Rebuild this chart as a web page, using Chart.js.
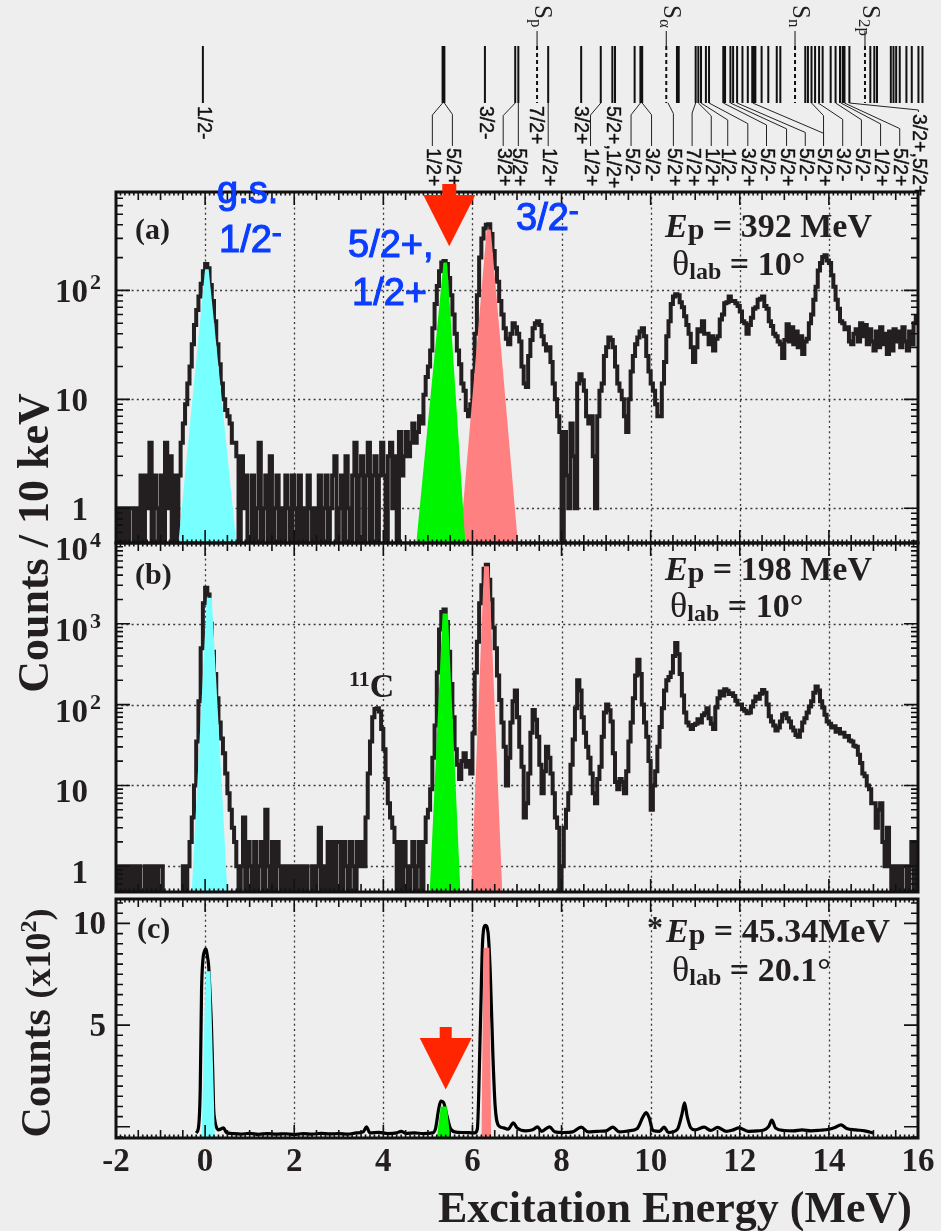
<!DOCTYPE html>
<html lang="en">
<head>
<meta charset="UTF-8">
<title>Excitation energy spectra</title>
<script src="https://cdn.jsdelivr.net/npm/chart.js"></script>
<style>
  body { margin: 0; background: #eeeeee; }
  #wrap { position: relative; width: 941px; height: 1231px; }
  #wrap canvas { position: absolute; left: 0; top: 0; }
</style>
</head>
<body>
<div id="wrap">
  <canvas id="scheme" width="941" height="1231"></canvas>
  <canvas id="panelA" width="941" height="1231"></canvas>
  <canvas id="panelB" width="941" height="1231"></canvas>
  <canvas id="panelC" width="941" height="1231"></canvas>
</div>
<script>
// ---------- data ----------
// histograms: 0.05 MeV bins starting at -2 MeV
const binStart = -2;
const binWidth = 0.05;

// (a) Ep = 392 MeV, counts per bin, one row = 1 MeV
const countsA = [
  1,0,1,0,1,0,1,1,0,1, 0,2,0,2,1,4,0,2,1,0,
  2,0,4,1,3,0,2,0,2,4, 6,9,14,20,32,48,66,88,115,150,
  175,160,112,80,52,32,21,14,10,8, 7,6,4,4,3,0,3,1,2,0,
  0,2,0,1,4,0,1,2,0,3, 0,1,2,0,1,0,2,1,0,2,
  1,0,2,0,1,0,2,1,0,1, 0,2,0,1,2,0,1,2,3,0,
  1,2,0,3,1,0,2,4,0,2, 3,0,2,4,0,2,3,0,2,4,
  2,0,3,4,1,3,0,5,2,3, 5,3,4,6,4,5,7,6,11,16,
  20,28,45,75,110,150,180,186,175,130, 90,60,40,28,21,14,12,8,7,9,
  18,40,90,200,300,370,400,404,330,230, 160,120,80,60,45,36,32,40,50,46,
  40,34,20,14,13,25,35,45,50,52, 48,38,32,28,30,22,14,10,7,5,
  0,5,2,1,6,3,1,14,17,15, 12,7,6,7,3,1,7,12,14,25,
  30,37,35,30,20,14,12,10,7,5, 10,18,25,32,37,42,45,38,25,18,
  14,12,9,7,7,14,22,38,52,75, 88,92,90,78,70,58,48,40,30,22,
  30,44,42,52,40,40,32,38,28,36, 38,54,60,76,78,88,80,80,76,72,
  64,52,50,40,48,56,68,70,82,84, 88,72,68,52,47,40,38,34,32,24,
  35,49,34,46,32,42,30,38,26,34, 36,50,60,82,108,152,178,202,210,188,
  178,138,108,82,68,52,50,44,46,34, 32,40,44,34,50,38,48,32,44,34,
  28,42,30,46,32,40,26,42,28,44, 34,42,30,46,34,28,42,32,50,58
];

// (b) Ep = 198 MeV
const countsB = [
  1,0,1,0,1,0,1,0,1,0, 1,0,0,1,0,1,0,1,0,1,
  1,0,0,0,0,0,0,0,0,0, 1,0,1,2,4,10,35,110,500,1800,
  2800,2300,1000,450,240,120,60,38,25,14, 8,5,3,2,1,0,1,4,0,2,
  1,0,2,0,1,2,0,5,1,0, 2,0,2,1,0,1,0,1,0,1,
  0,1,0,1,0,1,0,0,1,0, 1,3,0,1,0,2,0,2,0,2,
  2,0,2,1,0,2,1,0,2,1, 2,1,4,14,35,70,88,90,82,50,
  28,12,6,4,3,2,0,2,0,2, 1,0,1,2,0,1,2,0,2,4,
  5,9,22,55,250,850,1400,1500,1050,450, 180,70,28,18,12,20,25,17,20,14,
  44,250,600,1800,3000,4800,5400,3500,2000,900, 500,230,114,60,30,10,22,60,110,150,
  70,30,17,4,6,14,45,86,65,40, 18,8,15,30,22,14,8,4,3,0,
  1,3,5,8,18,37,90,200,150,70, 45,30,22,14,8,6,12,17,40,80,
  100,85,62,25,11,9,12,11,8,15, 35,60,120,230,360,240,100,60,40,20,
  5,10,15,30,53,90,150,200,220,250, 400,580,420,240,130,80,60,55,50,56,
  58,66,60,74,78,90,68,58,50,92, 120,145,130,155,148,135,138,128,112,100,
  100,88,84,78,80,95,110,126,118,136, 152,140,100,72,62,55,48,52,62,75,
  78,68,62,52,48,42,40,48,60,68, 80,95,110,140,168,150,110,92,75,62,
  58,52,54,46,50,44,45,40,41,36, 35,31,30,24,19,14,13,10,9,6,
  6,3,5,6,2,1,3,1,0,1, 0,1,0,1,1,0,1,2,0,2
];

// (c) Ep = 45.34 MeV, counts (x10^2)
const energiesC = [
  -0.20,-0.15,-0.11,-0.08,-0.05,-0.02,0.02,0.05,0.08,0.11,
  0.14,0.17,0.19,0.22,0.25,0.30,0.36,0.41,0.48,0.60,
  0.80,1.00,1.20,1.40,1.60,1.80,2.00,2.20,2.40,2.60,
  2.80,3.00,3.20,3.40,3.55,3.62,3.70,3.90,4.10,4.30,
  4.40,4.50,4.70,4.90,5.10,5.17,5.24,5.29,5.35,5.43,
  5.50,5.60,5.80,6.05,6.11,6.18,6.23,6.29,6.35,6.40,
  6.46,6.51,6.59,6.70,6.80,6.92,7.00,7.20,7.35,7.46,
  7.55,7.73,7.85,8.05,8.25,8.44,8.60,8.80,9.00,9.15,
  9.30,9.50,9.70,9.83,9.90,9.97,10.05,10.20,10.30,10.40,
  10.60,10.70,10.76,10.82,10.90,11.00,11.20,11.35,11.50,11.70,
  11.85,11.98,12.20,12.40,12.55,12.65,12.72,12.80,13.00,13.20,
  13.40,13.60,13.80,14.00,14.15,14.27,14.40,14.60,14.80,15.00
];
const countsC = [
  -0.30,-0.05,1.8,6.7,8.2,8.6,8.75,8.4,7.9,6.6,
  5.1,2.8,1.0,0.3,0.0,-0.15,-0.1,-0.05,-0.28,-0.33,
  -0.36,-0.32,-0.37,-0.33,-0.36,-0.34,-0.38,-0.33,-0.36,-0.32,
  -0.35,-0.33,-0.36,-0.30,-0.25,0.0,-0.30,-0.27,-0.33,-0.30,
  -0.22,-0.32,-0.30,-0.33,-0.30,-0.10,0.85,1.26,1.20,0.52,
  -0.05,-0.25,-0.28,-0.30,-0.10,5.1,9.2,9.9,9.55,7.57,
  3.47,1.0,0.05,-0.05,-0.12,0.2,-0.05,-0.2,-0.15,0.0,
  -0.22,0.0,-0.25,-0.28,-0.25,-0.02,-0.25,-0.22,-0.20,-0.02,
  -0.25,-0.20,-0.08,0.5,0.7,0.42,-0.18,-0.22,-0.02,-0.28,
  -0.12,0.6,1.18,0.5,-0.05,-0.15,-0.02,-0.18,-0.03,-0.22,
  -0.15,-0.05,-0.22,-0.20,-0.15,0.02,0.33,-0.05,-0.18,-0.20,
  -0.15,-0.20,-0.17,-0.12,-0.02,0.10,-0.08,-0.15,-0.20,-0.30
];

// shaded peak fits: energies of the outline corners and their heights (0 = axis floor)
const gsFillE_A = [-0.60, 0.00, 0.08, 0.70];       const gsFillH_A = [0, 156, 156, 0];
const posFillE_A = [4.74, 5.35, 5.43, 5.84];       const posFillH_A = [0, 180, 180, 0];
const negFillE_A = [5.72, 6.32, 6.41, 7.02];       const negFillH_A = [0, 363, 363, 0];
const gsFillE_B = [-0.30, 0.04, 0.15, 0.50];       const gsFillH_B = [0, 2100, 2100, 0];
const posFillE_B = [5.04, 5.33, 5.45, 5.73];       const posFillH_B = [0, 1340, 1340, 0];
const negFillE_B = [5.97, 6.26, 6.37, 6.67];       const negFillH_B = [0, 5170, 5170, 0];
const gsFillE_C = [-0.08, 0.015, 0.12, 0.22];      const gsFillH_C = [0, 7.65, 7.65, 0];
const posFillE_C = [5.20, 5.29, 5.43, 5.50];       const posFillH_C = [0, 1.0, 1.0, 0];
const negFillE_C = [6.20, 6.25, 6.38, 6.42];       const negFillH_C = [0, 8.8, 8.8, 0];

// level scheme (MeV)
const levelE = [-0.05, 5.33, 5.37, 6.28, 6.96, 7.03, 7.70, 8.44, 8.88, 9.14, 9.20,
  9.64, 9.77, 9.81, 10.59, 10.63, 11.01, 11.07, 11.13, 11.24, 11.31, 11.63, 11.67,
  11.79, 11.85, 11.94, 12.06, 12.18, 12.28, 12.31, 12.35, 12.49, 12.64, 12.83, 12.91,
  13.47, 13.53, 13.61, 13.69, 13.78, 13.86, 14.04, 14.15, 14.25, 14.31, 14.35, 14.46,
  14.93, 15.02, 15.08, 15.39, 15.45, 15.51, 15.59, 15.74, 15.86, 16.01, 16.10];
const thresholdE = [7.45, 10.35, 13.24, 14.81];
const thresholdSub = ['p', '\u03b1', 'n', '2p'];
const labelText = ['1/2-', '1/2+', '5/2+', '3/2-', '3/2+', '5/2+', '7/2+', '1/2+', '3/2+',
  '1/2+', '5/2+,1/2+', '5/2-', '3/2-', '5/2+', '7/2+', '1/2+', '1/2-', '3/2+', '5/2-',
  '5/2+', '5/2-', '5/2+', '3/2-', '5/2-', '1/2+', '5/2+', '3/2+,5/2+'];
const labelE = [-0.05, 5.10, 5.55, 6.28, 6.69, 7.03, 7.42, 7.70, 8.42, 8.65, 9.15,
  9.56, 10.02, 10.51, 10.93, 11.36, 11.73, 12.18, 12.60, 13.05, 13.47, 13.88, 14.31,
  14.73, 15.16, 15.59, 16.01];
const labelFrom = [-0.05, 5.33, 5.37, 6.28, 6.96, 7.03, 7.45, 7.70, 8.44, 8.88, 9.17,
  9.77, 9.81, 10.39, 11.01, 11.07, 11.13, 11.31, 11.63, 11.79, 11.94, 12.29, 13.76,
  14.15, 14.27, 14.35, 14.46];
const labelRow = [0, 1, 1, 0, 1, 1, 0, 1, 0, 1, 0, 1, 1, 1, 1, 1, 1, 1, 1, 1, 1, 1, 1,
  1, 1, 1, 2];
const extraLeaderFrom = 13.61;
const extraLeaderTo = 13.88;

// ---------- helpers ----------
const SERIF = '"Liberation Serif", "Times New Roman", serif';
const SANS = '"Liberation Sans", Arial, sans-serif';
const fB = s => 'bold ' + s + 'px ' + SERIF;
const fBI = s => 'italic bold ' + s + 'px ' + SERIF;
const fR = s => s + 'px ' + SERIF;
const fS = s => s + 'px ' + SANS;
const INK = '#231f20';
const BLUE = '#0a3dff';
const gridX = [0, 2, 4, 6, 8, 10, 12, 14];

function drawRuns(ctx, x, y, runs, align, outline) {
  let w = 0;
  runs.forEach(r => { ctx.font = r.font; w += ctx.measureText(r.t).width; });
  let cx = align === 'right' ? x - w : align === 'center' ? x - w / 2 : x;
  ctx.textAlign = 'left';
  runs.forEach(r => {
    ctx.font = r.font;
    ctx.fillText(r.t, cx, y + (r.dy || 0));
    if (outline) ctx.strokeText(r.t, cx, y + (r.dy || 0));
    cx += ctx.measureText(r.t).width;
  });
}

function histPoints(counts, floor) {
  return counts.map((c, i) => ({ x: binStart + (i + 0.5) * binWidth, y: c > 0 ? c : floor }));
}
function fillPoints(es, hs, floor) {
  return es.map((e, i) => ({ x: e, y: hs[i] > 0 ? hs[i] : floor }));
}
function fillSet(es, hs, floor, color) {
  return { data: fillPoints(es, hs, floor), fill: 'start', backgroundColor: color,
    borderColor: 'rgba(0,0,0,0)', borderWidth: 0, pointRadius: 0, tension: 0 };
}

function logTicks(min, max) {
  const out = [];
  for (let d = -1; d <= 4; d++) {
    for (let m = 1; m <= 9; m++) {
      const v = m * Math.pow(10, d);
      if (v >= min && v <= max) out.push([v, m === 1 ? 14 : 7]);
    }
  }
  return out;
}
function linTicks(min, max) {
  const out = [];
  for (let i = -2; i <= 24; i++) {
    const v = i * 0.5;
    if (v >= min && v <= max) out.push([v, i % 10 === 0 ? 14 : 7]);
  }
  return out;
}

function arrow(ctx, cx, tipY, shaftTop, headTop, headHalf, shaftHalf) {
  ctx.fillStyle = '#ff2500';
  ctx.fillRect(cx - shaftHalf, shaftTop, shaftHalf * 2, headTop - shaftTop + 1);
  ctx.beginPath();
  ctx.moveTo(cx - headHalf, headTop);
  ctx.lineTo(cx + headHalf, headTop);
  ctx.lineTo(cx, tipY);
  ctx.closePath();
  ctx.fill();
}

function decor(cfg) {
  return {
    id: 'decor',
    beforeDatasetsDraw(chart) {
      const { ctx, chartArea: a, scales: { x, y } } = chart;
      ctx.save();
      ctx.strokeStyle = '#3a3a3a';
      ctx.lineWidth = 1.3;
      ctx.setLineDash([2, 3.2]);
      ctx.beginPath();
      gridX.forEach(e => {
        const p = Math.round(x.getPixelForValue(e)) + 0.5;
        ctx.moveTo(p, a.top); ctx.lineTo(p, a.bottom);
      });
      cfg.gridY.forEach(v => {
        const p = Math.round(y.getPixelForValue(v)) + 0.5;
        ctx.moveTo(a.left, p); ctx.lineTo(a.right, p);
      });
      ctx.stroke();
      ctx.restore();
    },
    afterDraw(chart) {
      const { ctx, chartArea: a, scales: { x, y } } = chart;
      ctx.save();
      ctx.strokeStyle = '#111';
      ctx.lineWidth = 1.6;
      ctx.beginPath();
      for (let i = 0; i <= 180; i++) {
        const p = x.getPixelForValue(-2 + i * 0.1);
        const len = i % 20 === 0 ? 13 : i % 5 === 0 ? 8 : 3.5;
        ctx.moveTo(p, a.bottom); ctx.lineTo(p, a.bottom - len);
        ctx.moveTo(p, a.top); ctx.lineTo(p, a.top + len);
      }
      const ticks = cfg.log ? logTicks(cfg.yMin, cfg.yMax) : linTicks(cfg.yMin, cfg.yMax);
      ticks.forEach(([v, len]) => {
        const p = y.getPixelForValue(v);
        ctx.moveTo(a.left, p); ctx.lineTo(a.left + len, p);
        ctx.moveTo(a.right, p); ctx.lineTo(a.right - len, p);
      });
      ctx.stroke();
      ctx.lineWidth = 3;
      ctx.strokeRect(a.left, a.top, a.right - a.left, a.bottom - a.top);

      ctx.fillStyle = INK;
      ctx.textBaseline = 'alphabetic';
      cfg.yLabels.forEach(l => {
        const p = y.getPixelForValue(l.v) + cfg.labelDy;
        ctx.font = fB(33);
        ctx.textAlign = 'right';
        ctx.fillText(l.b, cfg.labelRight, p);
        if (l.s) {
          ctx.font = fB(22);
          ctx.textAlign = 'left';
          ctx.fillText(l.s, cfg.labelRight + 2, p - 13);
        }
      });
      cfg.extra(ctx, chart);
      ctx.restore();
    }
  };
}

function makePanel(id, cfg) {
  return new Chart(document.getElementById(id), {
    type: 'line',
    data: { datasets: cfg.datasets },
    options: {
      responsive: false,
      animation: false,
      events: [],
      layout: { padding: { left: 116, right: 23, top: cfg.top, bottom: 1231 - cfg.bottom } },
      scales: {
        x: { type: 'linear', min: -2, max: 16, display: false },
        y: { type: cfg.log ? 'logarithmic' : 'linear', min: cfg.yMin, max: cfg.yMax, display: false }
      },
      plugins: { legend: { display: false }, tooltip: { enabled: false } },
      elements: { point: { radius: 0 } }
    },
    plugins: [decor(cfg)]
  });
}

const CYAN = '#78ffff', GREEN = '#00f500', SALMON = '#ff8080';

function histSet(points, width) {
  return { data: points, borderColor: INK, borderWidth: width, stepped: 'middle',
    pointRadius: 0, fill: false };
}

function epText(ctx, x, y, rest) {
  drawRuns(ctx, x, y, [
    { t: 'E', font: fBI(34) }, { t: 'p', font: fB(30), dy: 2 }, { t: rest, font: fB(34) }
  ], 'left');
}
function thetaText(ctx, x, y, rest) {
  drawRuns(ctx, x, y, [
    { t: '\u03b8', font: fR(36) }, { t: 'lab', font: fB(24), dy: 4 }, { t: rest, font: fB(34) }
  ], 'left');
}
function blueText(ctx, x, y, runs) {
  ctx.fillStyle = BLUE;
  ctx.strokeStyle = BLUE;
  ctx.lineWidth = 1.1;
  drawRuns(ctx, x, y, runs, 'left', true);
}

// ---------- level scheme ----------
const schemePlugin = {
  id: 'scheme',
  afterDraw(chart) {
    const ctx = chart.ctx, x = chart.scales.x;
    const top = 46, bot = 103;
    ctx.save();
    ctx.strokeStyle = '#111';
    ctx.lineWidth = 2;
    ctx.beginPath();
    levelE.forEach(e => {
      const p = x.getPixelForValue(e);
      ctx.moveTo(p, top); ctx.lineTo(p, bot);
    });
    ctx.stroke();

    thresholdE.forEach((e, i) => {
      const p = x.getPixelForValue(e);
      ctx.setLineDash([4, 3]);
      ctx.lineWidth = 2;
      ctx.beginPath(); ctx.moveTo(p, top); ctx.lineTo(p, bot); ctx.stroke();
      ctx.setLineDash([]);
      ctx.lineWidth = 1;
      ctx.beginPath(); ctx.moveTo(p, 31); ctx.lineTo(p, top); ctx.stroke();
      ctx.save();
      ctx.translate(p - 2, 5);
      ctx.rotate(Math.PI / 2);
      ctx.fillStyle = INK;
      ctx.textBaseline = 'alphabetic';
      drawRuns(ctx, 0, 0, [{ t: 'S', font: fR(25) }, { t: thresholdSub[i], font: fR(17), dy: 4 }], 'left');
      ctx.restore();
    });

    ctx.lineWidth = 1;
    ctx.strokeStyle = '#222';
    const starts = [106, 148, 114];
    const leader = (fx, lx, row) => {
      const start = starts[row];
      const bend = row === 1 ? 104 + Math.min(34, 8 + 0.3 * Math.abs(lx - fx)) : start - 4;
      ctx.beginPath();
      ctx.moveTo(fx, bot);
      ctx.lineTo(lx, bend);
      ctx.lineTo(lx, start - 2);
      ctx.stroke();
    };
    labelText.forEach((t, i) => {
      const lx = x.getPixelForValue(labelE[i]);
      const fx = x.getPixelForValue(labelFrom[i]);
      const row = labelRow[i];
      if (row !== 0 || Math.abs(lx - fx) > 3) leader(fx, lx, row);
      ctx.save();
      ctx.translate(lx, starts[row]);
      ctx.rotate(Math.PI / 2);
      ctx.fillStyle = '#111';
      ctx.strokeStyle = '#111';
      ctx.lineWidth = 0.4;
      ctx.font = fS(19.5);
      ctx.textAlign = 'left';
      ctx.textBaseline = 'middle';
      ctx.fillText(t, 0, 0);
      ctx.strokeText(t, 0, 0);
      ctx.restore();
    });
    leader(x.getPixelForValue(extraLeaderFrom), x.getPixelForValue(extraLeaderTo), 1);
    ctx.restore();
  }
};

new Chart(document.getElementById('scheme'), {
  type: 'line',
  data: { datasets: [] },
  options: {
    responsive: false, animation: false, events: [],
    layout: { padding: { left: 116, right: 23, top: 0, bottom: 1231 - 192 } },
    scales: { x: { type: 'linear', min: -2, max: 16, display: false }, y: { min: 0, max: 1, display: false } },
    plugins: { legend: { display: false }, tooltip: { enabled: false } }
  },
  plugins: [schemePlugin]
});

// ---------- panel (a) ----------
const minA = 0.48, maxA = 800;
makePanel('panelA', {
  top: 192, bottom: 543, log: true, yMin: minA, yMax: maxA,
  gridY: [1, 10, 100],
  labelRight: 88, labelDy: 12,
  yLabels: [{ v: 1, b: '1' }, { v: 10, b: '10' }, { v: 100, b: '10', s: '2' }],
  datasets: [
    fillSet(gsFillE_A, gsFillH_A, minA, CYAN),
    fillSet(posFillE_A, posFillH_A, minA, GREEN),
    fillSet(negFillE_A, negFillH_A, minA, SALMON),
    histSet(histPoints(countsA, 0.3), 4)
  ],
  extra(ctx, chart) {
    const { x, y } = chart.scales;
    ctx.fillStyle = INK;
    ctx.font = fB(30);
    ctx.textAlign = 'left';
    ctx.fillText('(a)', 135, 239);
    epText(ctx, 665, 237, ' = 392 MeV');
    thetaText(ctx, 672, 275, ' = 10\u00b0');
    blueText(ctx, 217, 203, [{ t: 'g.s.', font: fS(38) }]);
    blueText(ctx, 219, 252, [{ t: '1/2', font: fS(38) }, { t: '-', font: fS(30), dy: -9 }]);
    blueText(ctx, 348, 257, [{ t: '5/2+,', font: fS(38) }]);
    blueText(ctx, 352, 305, [{ t: '1/2+', font: fS(38) }]);
    blueText(ctx, 516, 230, [{ t: '3/2', font: fS(38) }, { t: '-', font: fS(30), dy: -9 }]);
    arrow(ctx, x.getPixelForValue(5.48), y.getPixelForValue(254), 184, 195, 26, 7);
  }
});

// ---------- panel (b) ----------
const minB = 0.48, maxB = 10000;
makePanel('panelB', {
  top: 543, bottom: 892, log: true, yMin: minB, yMax: maxB,
  gridY: [1, 10, 100, 1000],
  labelRight: 88, labelDy: 17,
  yLabels: [{ v: 1, b: '1' }, { v: 10, b: '10' }, { v: 100, b: '10', s: '2' },
    { v: 1000, b: '10', s: '3' }, { v: 10000, b: '10', s: '4' }],
  datasets: [
    fillSet(gsFillE_B, gsFillH_B, minB, CYAN),
    fillSet(posFillE_B, posFillH_B, minB, GREEN),
    fillSet(negFillE_B, negFillH_B, minB, SALMON),
    histSet(histPoints(countsB, 0.3), 4)
  ],
  extra(ctx) {
    ctx.fillStyle = INK;
    ctx.font = fB(30);
    ctx.textAlign = 'left';
    ctx.fillText('(b)', 135, 584);
    epText(ctx, 665, 580, ' = 198 MeV');
    thetaText(ctx, 670, 617, ' = 10\u00b0');
    drawRuns(ctx, 349, 697, [{ t: '11', font: fB(22), dy: -11 }, { t: 'C', font: fB(34) }], 'left');
    ctx.save();
    ctx.translate(48, 543);
    ctx.rotate(-Math.PI / 2);
    ctx.font = fB(44);
    ctx.textAlign = 'center';
    ctx.fillText('Counts / 10 keV', 0, 0);
    ctx.restore();
  }
});

// ---------- panel (c) ----------
const minC = -0.55, maxC = 11.2;
makePanel('panelC', {
  top: 899, bottom: 1138, log: false, yMin: minC, yMax: maxC,
  gridY: [],
  labelRight: 106, labelDy: 11,
  yLabels: [{ v: 5, b: '5' }, { v: 10, b: '10' }],
  datasets: [
    fillSet(gsFillE_C, gsFillH_C, minC, CYAN),
    fillSet(posFillE_C, posFillH_C, minC, GREEN),
    fillSet(negFillE_C, negFillH_C, minC, SALMON),
    { data: energiesC.map((e, i) => ({ x: e, y: countsC[i] })), borderColor: '#000',
      borderWidth: 3.2, cubicInterpolationMode: 'monotone', pointRadius: 0, fill: false }
  ],
  extra(ctx, chart) {
    const { x, y } = chart.scales;
    ctx.fillStyle = INK;
    ctx.font = fB(30);
    ctx.textAlign = 'left';
    ctx.fillText('(c)', 137, 938);
    ctx.font = fB(32);
    ctx.fillText('*', 647, 938);
    epText(ctx, 666, 942, ' = 45.34MeV');
    thetaText(ctx, 672, 981, ' = 20.1\u00b0');

    ctx.font = fB(33);
    ctx.textAlign = 'center';
    for (let e = -2; e <= 16; e += 2) ctx.fillText(String(e), x.getPixelForValue(e), 1171);
    ctx.font = fB(44);
    ctx.textAlign = 'right';
    ctx.fillText('Excitation Energy (MeV)', 912, 1222);

    ctx.save();
    ctx.translate(50, 1023);
    ctx.rotate(-Math.PI / 2);
    drawRuns(ctx, 0, 0, [
      { t: 'Counts ', font: fB(42) }, { t: '(x10', font: fB(36) },
      { t: '2', font: fB(24), dy: -14 }, { t: ')', font: fB(36) }
    ], 'center');
    ctx.restore();

    arrow(ctx, x.getPixelForValue(5.40), y.getPixelForValue(1.83), 1027, 1038, 26, 6);
  }
});
</script>
</body>
</html>
